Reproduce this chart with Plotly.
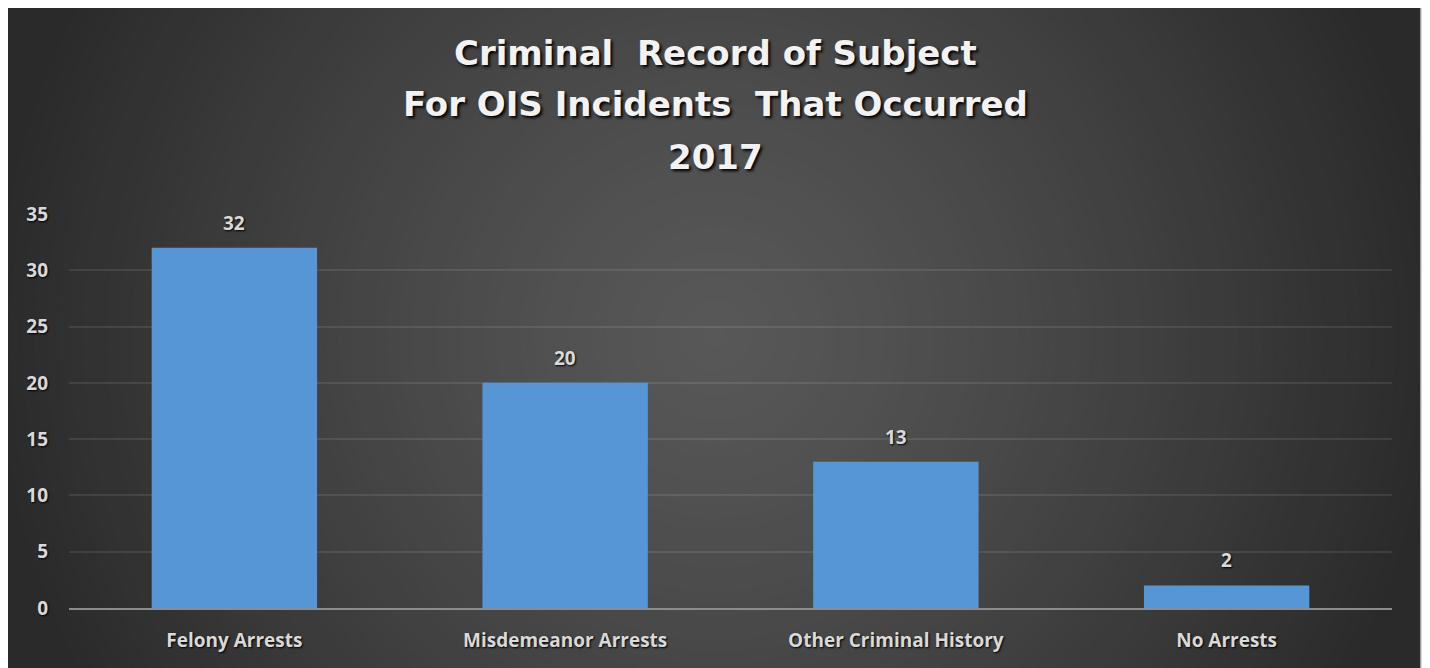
import plotly.graph_objects as go

categories = ["Felony Arrests", "Misdemeanor Arrests", "Other Criminal History", "No Arrests"]
values = [32, 20, 13, 2]
y_ticks = [0, 5, 10, 15, 20, 25, 30, 35]
title_lines = ["Criminal  Record of Subject", "For OIS Incidents  That Occurred", "2017"]

OFF = 8  # page body margin
W, H = 1430 - OFF, 668 - OFF
L, R, T, B = 69 - OFF, 1430 - 1392, 214 - OFF, 60
PW, PH = W - L - R, H - T - B

def px(x):
    return (x - OFF - L) / PW

def py(y):
    return (H - B - (y - OFF)) / PH

LABEL_FONT = dict(family="Open Sans", size=19, color="#d9d9d9", weight="bold",
                  shadow="1px 1px 2px #000000")

fig = go.Figure()
fig.add_trace(go.Bar(
    x=categories, y=values,
    marker=dict(color="#5796d6", line=dict(width=0)),
    width=0.5,
))

shapes = []
shapes.append(dict(type="rect", xref="paper", yref="paper", layer="below",
                   x0=px(0), x1=px(1421), y0=py(H + 40), y1=py(0),
                   fillcolor="#2a2a2a", line=dict(width=0)))
cx, cy, Rmax = 715, 336, 730
N = 60
for i in range(N):
    t = 1 - i / N
    r = Rmax * t
    v = int(round(0x58 - (0x58 - 0x2a) * (t ** 1.25)))
    col = "#%02x%02x%02x" % (v, v, v)
    shapes.append(dict(type="circle", xref="paper", yref="paper", layer="below",
                       x0=px(cx - r), x1=px(cx + r), y0=py(cy + r), y1=py(cy - r),
                       fillcolor=col, line=dict(width=0)))
for (x0, x1, y0, y1) in [(1421, 1440, 0, 700), (0, 1440, -20, 0)]:
    shapes.append(dict(type="rect", xref="paper", yref="paper", layer="below",
                       x0=px(x0), x1=px(x1), y0=py(y1), y1=py(y0),
                       fillcolor="#ffffff", line=dict(width=0)))
shapes.append(dict(type="line", xref="paper", yref="paper", layer="below",
                   x0=px(1421), x1=px(1421), y0=py(700), y1=py(0),
                   line=dict(width=1.5, color="#c8c8c8")))

annotations = []
for yline, txt in zip([53, 104, 157], title_lines):
    annotations.append(dict(x=px(715), y=py(yline), xref="paper", yref="paper",
                            text=txt, showarrow=False, xanchor="center", yanchor="middle",
                            font=dict(family="DejaVu Sans", size=34, color="#f2f2f2",
                                      weight="bold", shadow="2px 2px 3px #000000")))
for c, v in zip(categories, values):
    annotations.append(dict(x=c, y=v, xref="x", yref="y", text=str(v), showarrow=False,
                            yanchor="middle", yshift=25, font=LABEL_FONT))

fig.update_layout(
    width=W, height=H,
    margin=dict(l=L, r=R, t=T, b=B, pad=0),
    paper_bgcolor="#ffffff",
    plot_bgcolor="rgba(0,0,0,0)",
    showlegend=False,
    shapes=shapes,
    annotations=annotations,
    bargap=0.5,
)
fig.update_yaxes(range=[0, 35], tickvals=y_ticks, showgrid=True,
                 gridcolor="rgba(255,255,255,0.09)", gridwidth=1.5,
                 zeroline=False, showline=False, ticks="",
                 ticklabelstandoff=20, tickfont=LABEL_FONT)
fig.update_xaxes(showline=True, linecolor="#8c8c8c", linewidth=2, showgrid=False,
                 ticks="", ticklabelstandoff=14, tickfont=LABEL_FONT)

fig.write_html("out.html")
